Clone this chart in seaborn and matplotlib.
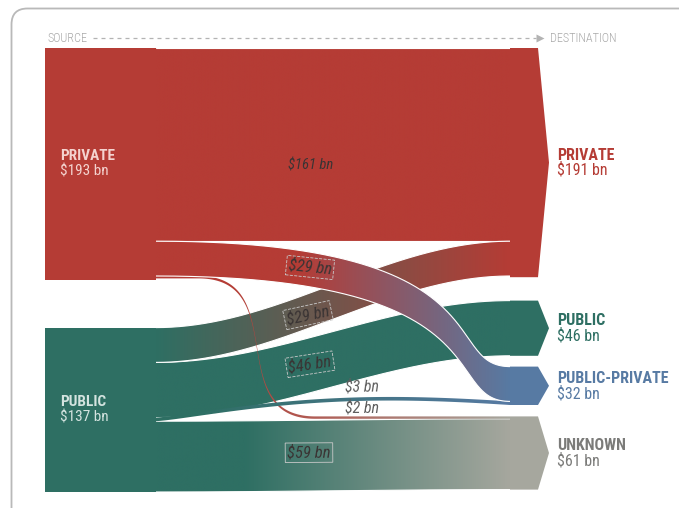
import numpy as np
import matplotlib
matplotlib.use("Agg")
import matplotlib.pyplot as plt
import seaborn as sns
from matplotlib import font_manager as fm
from matplotlib.patches import Polygon, Rectangle, FancyBboxPatch

# ---------------------------------------------------------------- data (US$ bn)
sources = ["PRIVATE", "PUBLIC"]
source_totals = [193, 137]

destinations = ["PRIVATE", "PUBLIC", "PUBLIC-PRIVATE", "UNKNOWN"]
destination_totals = [191, 46, 32, 61]

flow_source = ["PRIVATE", "PRIVATE", "PRIVATE", "PUBLIC", "PUBLIC", "PUBLIC", "PUBLIC"]
flow_target = ["PRIVATE", "PUBLIC-PRIVATE", "UNKNOWN", "PRIVATE", "PUBLIC",
               "PUBLIC-PRIVATE", "UNKNOWN"]
flow_value = [161, 29, 2, 29, 46, 3, 59]

# ---------------------------------------------------------------- style
NODE_COLOR = {"PRIVATE": "#b53c35", "PUBLIC": "#2e6f63",
              "PUBLIC-PRIVATE": "#577aa3", "UNKNOWN": "#a6a79e"}
SOURCE_TEXT = {"PRIVATE": "#f4d3cf", "PUBLIC": "#d3e3df"}
DEST_TEXT = {"PRIVATE": "#b53c35", "PUBLIC": "#2e6f63",
             "PUBLIC-PRIVATE": "#577aa3", "UNKNOWN": "#7b7b79"}

PX_PER_BN = 1.2          # vertical scale of the bands
TOP = 48                 # top of the first node row
SRC_X = (45, 156)        # source column
DST_X = (510, 538)       # destination column
TIP = 11                 # chevron depth of destination nodes
SRC_GAP = 40             # gap between source nodes (bn)
DST_GAPS = [19.5, 9.0, 9.5]

# band shape: bend starts/ends (fraction of the span), bezier control
# fractions, vertical bump (bn), gradient start/end (fraction of the span)
BAND = {
    ("PRIVATE", "PRIVATE"): (0.0, 1.0, 0.35, 0.65, 0, 0.0, 1.0),
    ("PRIVATE", "PUBLIC-PRIVATE"): (0.0, 1.0, 1.0, 0.8, 0, 0.4, 1.0),
    ("PRIVATE", "UNKNOWN"): (0.12, 0.45, 0.8, 0.2, 0, 0.2, 1.0),
    ("PUBLIC", "PRIVATE"): (0.0, 1.0, 0.35, 0.65, 0, 0.0, 1.0),
    ("PUBLIC", "PUBLIC"): (0.0, 1.0, 0.35, 0.65, 0, 0.0, 1.0),
    ("PUBLIC", "PUBLIC-PRIVATE"): (0.0, 1.0, 0.1, 0.4, 6, 0.1, 1.0),
    ("PUBLIC", "UNKNOWN"): (0.0, 1.0, 0.35, 0.65, 0, 0.25, 1.0),
}
# value labels: (x, vertical offset px, font size, box line style)
LABEL = {
    ("PRIVATE", "PRIVATE"): (311, 21, 10.5, None),
    ("PRIVATE", "PUBLIC-PRIVATE"): (310, -2, 12, "--"),
    ("PRIVATE", "UNKNOWN"): (362, -10, 11.5, None),
    ("PUBLIC", "PRIVATE"): (308, 4, 12, "--"),
    ("PUBLIC", "PUBLIC"): (310, -1, 12, "--"),
    ("PUBLIC", "PUBLIC-PRIVATE"): (362, -13, 11.5, None),
    ("PUBLIC", "UNKNOWN"): (309, -3, 12, "-"),
}
DRAW_ORDER = [0, 6, 4, 3, 2, 5, 1]

sns.set_theme(style="white")

installed = {f.name for f in fm.fontManager.ttflist}
COND = None
for cand in ("Roboto Condensed", "Liberation Sans Narrow", "Open Sans Condensed",
             "Noto Sans Condensed", "DejaVu Sans Condensed"):
    if cand in installed:
        COND = cand
        break
if COND is None:
    narrow = sorted(n for n in installed if "Condensed" in n or "Narrow" in n)
    COND = narrow[0] if narrow else "DejaVu Sans"
plt.rcParams["font.family"] = [COND, "DejaVu Sans"]

fig = plt.figure(figsize=(6.79, 5.08), dpi=100)
ax = fig.add_axes([0, 0, 1, 1])
ax.set_xlim(0, 679)
ax.set_ylim(508, 0)
ax.axis("off")

# card frame
ax.add_patch(FancyBboxPatch((11.5, 8.5), 720, 560,
                            boxstyle="round,pad=0,rounding_size=16",
                            fc="white", ec="#b9b9b9", lw=1.3, zorder=0))

# header
HY = 38
ax.text(SRC_X[0] + 2, HY, "SOURCE", fontsize=8.8, color="#a9a9a9", va="center",
        ha="left", fontweight="light")
ax.plot([93, 536], [HY, HY], color="#b3b3b3", lw=0.9, ls=(0, (3.2, 3.2)), zorder=1)
ax.plot([540], [HY], marker=">", ms=6, color="#b3b3b3", mec="none", zorder=1)
ax.text(550, HY, "DESTINATION", fontsize=8.8, color="#a9a9a9", va="center",
        ha="left", fontweight="light")

# node positions
src_top = {}
y = TOP
for name, tot in zip(sources, source_totals):
    src_top[name] = y
    y += (tot + SRC_GAP) * PX_PER_BN
dst_top = {}
y = TOP
for i, (name, tot) in enumerate(zip(destinations, destination_totals)):
    dst_top[name] = y
    y += tot * PX_PER_BN
    if i < len(DST_GAPS):
        y += DST_GAPS[i] * PX_PER_BN

# stacking offsets of flows inside the nodes
src_off = {n: 0.0 for n in sources}
dst_off = {n: 0.0 for n in destinations}
geom = []
for s, t, v in zip(flow_source, flow_target, flow_value):
    h = v * PX_PER_BN
    y0 = src_top[s] + src_off[s]
    y1 = dst_top[t] + dst_off[t]
    src_off[s] += h
    dst_off[t] += h
    geom.append((y0, y1, h))

X0, X1 = SRC_X[1], DST_X[0]
SPAN = X1 - X0
xs = np.linspace(X0, X1, 500)
us = (xs - X0) / SPAN


def progress(key):
    """Vertical progress (0..1) of a band along xs, from a cubic bezier bend."""
    s0, e0, a, b = BAND[key][:4]
    t = np.linspace(0, 1, 600)
    bx = 3 * (1 - t) ** 2 * t * a + 3 * (1 - t) * t ** 2 * b + t ** 3
    bx = X0 + SPAN * (s0 + (e0 - s0) * bx)
    by = 3 * t ** 2 - 2 * t ** 3
    return np.interp(xs, bx, by, left=0.0, right=1.0)


profiles = {}
for s, t in zip(flow_source, flow_target):
    profiles[(s, t)] = progress((s, t))


def band_top(i, x):
    key = (flow_source[i], flow_target[i])
    bump = BAND[key][4]
    y0, y1, h = geom[i]
    p = np.interp(x, xs, profiles[key])
    u = np.clip((np.asarray(x, dtype=float) - X0) / SPAN, 0, 1)
    return y0 + (y1 - y0) * p - bump * PX_PER_BN * np.sin(np.pi * u)


for z, i in enumerate(DRAW_ORDER):
    s, t, v = flow_source[i], flow_target[i], flow_value[i]
    g0, g1 = BAND[(s, t)][5:]
    y0, y1, h = geom[i]
    top = band_top(i, xs)
    bot = top + h
    verts = np.vstack([np.column_stack([xs, top]),
                       np.column_stack([xs[::-1], bot[::-1]])])
    poly = Polygon(verts, closed=True, fc="none", ec="none", zorder=2 + z * 0.1)
    ax.add_patch(poly)
    pal = np.array(sns.blend_palette([NODE_COLOR[s], NODE_COLOR[t]], n_colors=256))
    g = np.clip((us - g0) / (g1 - g0), 0, 1)
    img = pal[np.round(g * 255).astype(int)][None, :, :]
    im = ax.imshow(img, extent=(X0, X1, bot.max() + 1, top.min() - 1),
                   aspect="auto", interpolation="bilinear", zorder=2 + z * 0.1)
    im.set_clip_path(poly)
    if v >= 10:
        ax.plot(xs, top, color="white", lw=0.8, zorder=2 + z * 0.1 + 0.05)
        ax.plot(xs, bot, color="white", lw=0.8, zorder=2 + z * 0.1 + 0.05)

# source nodes
for name, tot in zip(sources, source_totals):
    h = tot * PX_PER_BN
    ax.add_patch(Rectangle((SRC_X[0], src_top[name]), SRC_X[1] - SRC_X[0], h,
                           fc=NODE_COLOR[name], ec="none", zorder=4))
    cy = src_top[name] + h / 2
    ax.text(SRC_X[0] + 15, cy - 7.5, name, color=SOURCE_TEXT[name], fontsize=11,
            fontweight="bold", va="center", ha="left", zorder=5)
    ax.text(SRC_X[0] + 15, cy + 7.5, f"${tot} bn", color=SOURCE_TEXT[name],
            fontsize=11, va="center", ha="left", zorder=5)

# destination nodes (chevrons)
for name, tot in zip(destinations, destination_totals):
    h = tot * PX_PER_BN
    yt = dst_top[name]
    yb = yt + h
    cy = yt + h / 2
    ax.add_patch(Polygon([(DST_X[0], yt), (DST_X[1], yt), (DST_X[1] + TIP, cy),
                          (DST_X[1], yb), (DST_X[0], yb)], closed=True,
                         fc=NODE_COLOR[name], ec="none", zorder=4))
    tx = DST_X[1] + TIP + 8
    ax.text(tx, cy - 7.5, name, color=DEST_TEXT[name], fontsize=11.5,
            fontweight="bold", va="center", ha="left", zorder=5)
    ax.text(tx, cy + 7.5, f"${tot} bn", color=DEST_TEXT[name], fontsize=11.5,
            va="center", ha="left", zorder=5)

# value labels
for i, (s, t, v) in enumerate(zip(flow_source, flow_target, flow_value)):
    lx, dy, fs, box = LABEL[(s, t)]
    h = geom[i][2]
    ly = float(band_top(i, lx)) + h / 2 + dy
    slope = float(band_top(i, lx + 2) - band_top(i, lx - 2)) / 4
    rot = -np.degrees(np.arctan(slope)) * 0.6
    color = "#3a3434" if v >= 10 else "#5f5f5f"
    kw = {}
    if box is not None:
        kw["bbox"] = dict(boxstyle="square,pad=0.12", fc="none", ec="#c9c9c9",
                          lw=0.6, ls=box)
    ax.text(lx, ly, f"${v} bn", fontsize=fs, style="italic", color=color,
            rotation=rot, rotation_mode="anchor", ha="center", va="center",
            zorder=8, **kw)

fig.savefig("out.png", dpi=100)
